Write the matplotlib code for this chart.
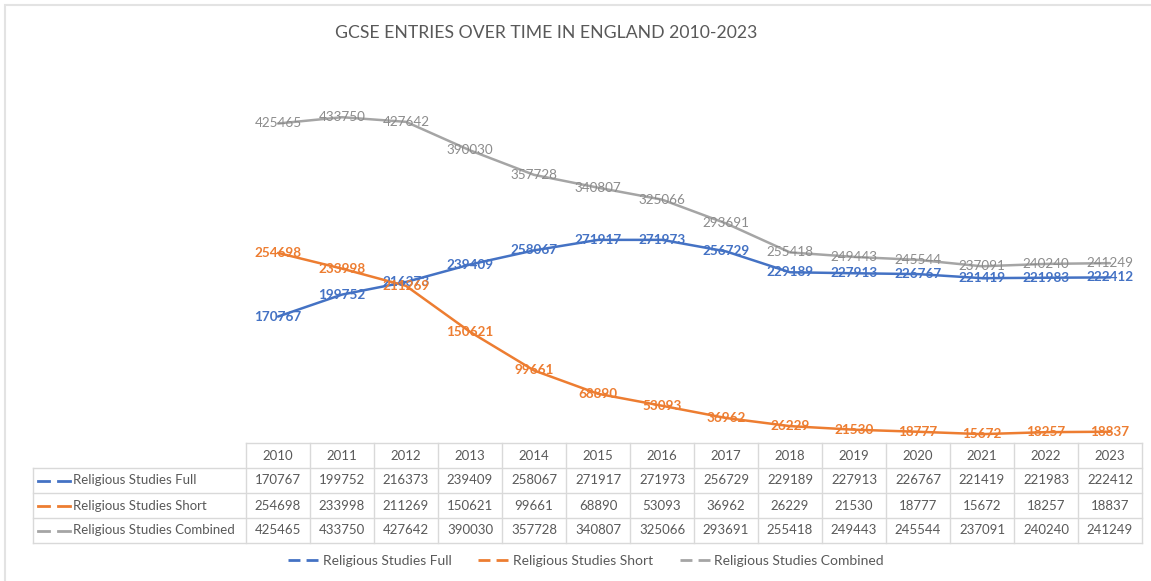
import matplotlib.pyplot as plt
from matplotlib.lines import Line2D
from matplotlib.patches import Rectangle

plt.rcParams['font.family'] = ['Lato', 'DejaVu Sans']

years = [2010, 2011, 2012, 2013, 2014, 2015, 2016, 2017, 2018, 2019, 2020, 2021, 2022, 2023]
full = [170767, 199752, 216373, 239409, 258067, 271917, 271973, 256729, 229189, 227913, 226767, 221419, 221983, 222412]
short = [254698, 233998, 211269, 150621, 99661, 68890, 53093, 36962, 26229, 21530, 18777, 15672, 18257, 18837]
combined = [425465, 433750, 427642, 390030, 357728, 340807, 325066, 293691, 255418, 249443, 245544, 237091, 240240, 241249]

series_names = ["Religious Studies Full", "Religious Studies Short", "Religious Studies Combined"]
series_vals = [full, short, combined]
colors = ["#4472C4", "#ED7D31", "#A5A5A5"]
label_colors = ["#4472C4", "#ED7D31", "#8C8C8C"]
label_weights = ["bold", "bold", "normal"]
text_col = "#595959"
grid_col = "#D9D9D9"

W, H = 1151, 581
fig = plt.figure(figsize=(W / 100, H / 100), dpi=100)

# outer chart border (top/left visible)
fig.patches.append(Rectangle((5 / W, -0.1), 1.2, 1 - 5 / H + 0.1, transform=fig.transFigure,
                             fill=False, edgecolor="#E3E3E3", lw=1.5))

fig.text(546 / W, 1 - 33 / H, "GCSE ENTRIES OVER TIME IN ENGLAND 2010-2023",
         ha="center", va="center", fontsize=12.7, color=text_col)

# main line axes
ax = fig.add_axes([246 / W, (H - 446) / H, 896 / W, (446 - 67) / H])
x = list(range(len(years)))
for vals, c in zip(series_vals, colors):
    ax.plot(x, vals, color=c, lw=1.8, solid_capstyle="round", zorder=2)
for vals, lc, wt in zip(series_vals, label_colors, label_weights):
    for xi, v in zip(x, vals):
        ax.text(xi, v, str(v), ha="center", va="center", fontsize=9.7,
                color=lc, fontweight=wt, zorder=3)
ax.set_xlim(-0.5, len(years) - 0.5)
ax.set_ylim(0, 500000)
ax.axis("off")

# data table
tax = fig.add_axes([246 / W, (H - 543) / H, 896 / W, 100 / H])
tax.set_xlim(-0.5, len(years) - 0.5)
tax.set_ylim(4, 0)
tax.axis("off")


def px(p):
    # pixel column -> table x units
    return -0.5 + (p - 246) / 64


left = px(33)
right = len(years) - 0.5
kw = dict(color=grid_col, lw=1, clip_on=False)
tax.plot([-0.5, right], [0, 0], **kw)
for r in range(1, 5):
    tax.plot([left, right], [r, r], **kw)
for k in range(len(years) + 1):
    tax.plot([-0.5 + k, -0.5 + k], [0, 4], **kw)
tax.plot([left, left], [1, 4], **kw)

for i, yr in enumerate(years):
    tax.text(i, 0.5, str(yr), ha="center", va="center", fontsize=9.5, color=text_col)
for r, (name, vals, c) in enumerate(zip(series_names, series_vals, colors), start=1):
    tax.plot([px(38), px(49)], [r + 0.5, r + 0.5], color=c, lw=2, clip_on=False)
    tax.plot([px(58), px(70)], [r + 0.5, r + 0.5], color=c, lw=2, clip_on=False)
    tax.text(px(73), r + 0.5, name, ha="left", va="center", fontsize=9.5,
             color=text_col, clip_on=False)
    for i, v in enumerate(vals):
        tax.text(i, r + 0.5, str(v), ha="center", va="center", fontsize=9.5, color=text_col)

# legend
handles = [Line2D([], [], color=c, lw=2, linestyle=(0, (4.3, 2.2))) for c in colors]
fig.legend(handles, series_names, loc="center", bbox_to_anchor=(586 / W, 1 - 561 / H),
           ncol=3, frameon=False, fontsize=10, handlelength=2.16, handletextpad=0.3,
           columnspacing=1.95, labelcolor=text_col)

fig.savefig("out.png", dpi=100)
